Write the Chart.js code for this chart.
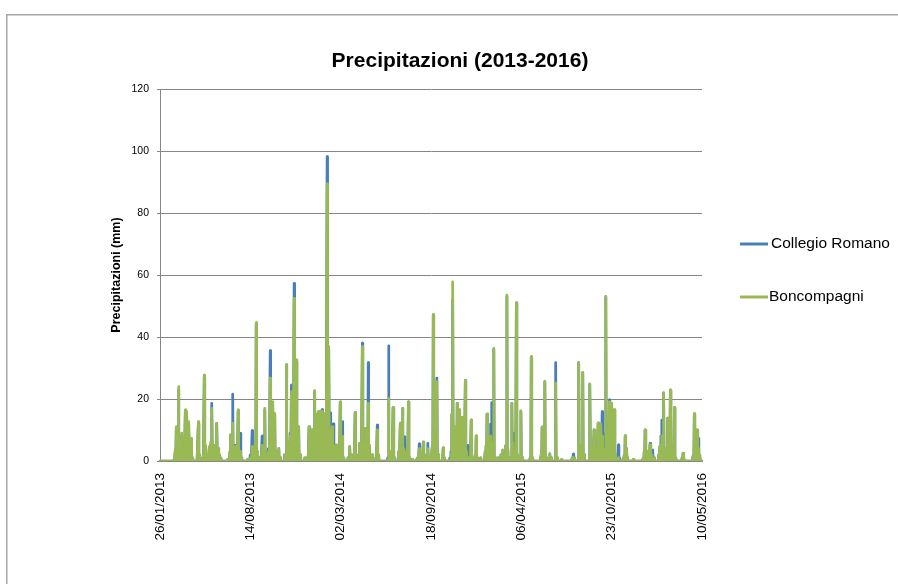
<!DOCTYPE html>
<html>
<head>
<meta charset="utf-8">
<script src="https://cdn.jsdelivr.net/npm/chart.js@4/dist/chart.umd.min.js"></script>
<style>
  html, body { margin: 0; padding: 0; background: #fff; }
  #wrap { width: 898px; height: 584px; }
</style>
</head>
<body>
<div id="wrap"><canvas id="rainChart" width="898" height="584"></canvas></div>
<script>
// Daily series from 26/01/2013 to 10/05/2016 (1201 days); dry days are 0 mm
const startDate = '26/01/2013';
const dayCount = 1201;
const tickLabels = ['26/01/2013', '14/08/2013', '02/03/2014', '18/09/2014', '06/04/2015', '23/10/2015', '10/05/2016'];
const seriesNames = ['Collegio Romano', 'Boncompagni'];
const seriesColors = ['#4a7ebb', '#98b954'];

// rainy days, as day number counted from the start date
const rainDays = [
  34, 36, 38, 41, 43, 46, 48, 53, 56, 59, 62, 64, 67, 69, 72, 85, 87, 90, 98, 100,
  106, 109, 112, 115, 118, 121, 124, 126, 129, 132, 135, 150, 155, 157, 159, 161, 164, 167, 169, 173,
  176, 178, 181, 194, 200, 204, 207, 211, 213, 216, 220, 226, 229, 232, 235, 240, 244, 247, 250, 252,
  254, 257, 260, 263, 266, 276, 280, 283, 286, 288, 291, 294, 297, 300, 302, 305, 307, 310, 320, 325,
  330, 333, 337, 340, 342, 345, 348, 350, 353, 356, 359, 362, 365, 367, 370, 372, 374, 377, 379, 381,
  384, 386, 388, 390, 393, 396, 399, 401, 404, 407, 416, 420, 423, 425, 428, 432, 435, 438, 442, 445,
  448, 450, 453, 456, 459, 461, 463, 466, 470, 478, 481, 484, 504, 506, 509, 512, 516, 519, 529, 532,
  535, 537, 539, 541, 544, 547, 550, 553, 558, 570, 574, 577, 583, 586, 590, 593, 596, 603, 605, 608,
  611, 613, 616, 627, 630, 641, 644, 646, 648, 650, 653, 656, 658, 660, 663, 666, 669, 671, 673, 676,
  679, 682, 684, 689, 692, 698, 700, 703, 710, 720, 722, 724, 727, 730, 732, 735, 737, 739, 742, 748,
  752, 755, 759, 762, 766, 768, 770, 773, 779, 781, 784, 786, 789, 792, 796, 799, 802, 820, 822, 825,
  844, 846, 849, 852, 855, 863, 866, 876, 879, 889, 913, 915, 918, 927, 930, 933, 936, 939, 952, 955,
  958, 961, 964, 967, 970, 973, 976, 979, 982, 985, 987, 990, 993, 995, 997, 999, 1002, 1004, 1006, 1009,
  1012, 1015, 1018, 1028, 1030, 1033, 1035, 1048, 1070, 1072, 1074, 1077, 1080, 1082, 1085, 1088, 1091, 1094, 1104, 1107,
  1109, 1111, 1113, 1115, 1118, 1121, 1124, 1127, 1130, 1133, 1136, 1139, 1142, 1156, 1158, 1160, 1181, 1183, 1186, 1189,
  1192, 1195
];

// mm on those days, Collegio Romano
const collegioRomano = [
  3, 10, 2, 23, 6, 2, 8, 4, 15, 15, 5, 12, 3, 7, 1, 12, 2, 1, 27, 4,
  2, 4, 5, 18.6, 3, 5, 2, 12, 4, 2, 1, 0.5, 3, 8.4, 5, 21.6, 3, 5, 2, 16,
  3, 8.9, 1, 0.5, 2, 9.8, 2, 5, 44, 3, 1, 8, 3, 16.5, 2, 4, 35.6, 8, 19, 6,
  15, 3, 1, 4, 1, 2, 31, 6, 3, 9, 24.5, 6, 57.3, 10, 32, 8, 11, 2, 1, 1,
  11, 8, 10, 2, 22.5, 5, 14, 15.5, 16, 8, 16.6, 10, 15, 4, 98.2, 10, 36.5, 15.5, 2, 11.6,
  12, 2, 4, 5, 3, 2, 19, 3, 12.7, 1, 1, 4.6, 1, 2, 1, 15.6, 2, 1, 5.7, 3,
  38, 6, 3, 10.5, 5, 31.7, 5, 1, 2, 1, 11.6, 2, 1, 37.1, 3, 2, 17.2, 1, 3, 12,
  6, 17, 4, 7.8, 2, 3, 19, 1, 0.5, 1, 5.5, 1, 6, 1, 2, 5.7, 1, 5, 47, 10,
  3, 26.7, 2, 4, 1, 1, 3, 15, 51.9, 8, 11, 6, 18.6, 4, 16.5, 2, 14, 3, 10, 25.9,
  3, 5, 1, 13.2, 1, 2, 8, 1, 1, 3, 5, 15, 3, 6, 11.9, 18.8, 4, 36, 1, 1,
  1, 2, 3.5, 1, 5, 53, 4, 1, 18.6, 6, 8.9, 3, 51, 2, 1, 16, 1, 1, 33.6, 1,
  2, 10.9, 2, 25.6, 1, 2.3, 1, 31.7, 1, 0.5, 1, 2.2, 1, 31.7, 3, 5, 28.5, 2, 24.8, 4,
  2, 10, 2, 3, 12.2, 5, 11, 15.9, 8.9, 3, 53, 5, 10, 19.7, 6, 18.6, 3, 2, 16.5, 2,
  1, 5.2, 1, 2, 8.1, 4, 1, 0.5, 1, 3, 10, 2, 3, 2, 5.7, 2, 3.5, 1, 2, 4.6,
  8, 13.2, 6, 22, 4, 3, 13.8, 4, 22.9, 5, 3, 17.2, 1, 1, 2.5, 1, 2, 15.2, 5, 10,
  7.3, 2
];

// mm on those days, Boncompagni
const boncompagni = [
  4, 11, 3, 24, 7, 1, 9, 5, 16.5, 16, 4, 12.7, 3, 7.3, 1, 12.7, 2, 1, 27.7, 5,
  2, 4.6, 6, 17, 3, 5, 2, 12.2, 4, 2, 1, 0.5, 3, 8.4, 4, 12.2, 3, 4.6, 2, 16.5,
  3, 3, 1, 0.5, 1, 4.6, 2, 6, 44.6, 3, 1, 5, 3, 17, 2, 3, 26.7, 8, 19.1, 6,
  15.4, 3, 1, 4, 1, 2, 31.2, 6, 3, 8, 22.4, 6, 52.5, 10, 32.6, 8, 11, 2, 1, 1,
  11, 8, 10, 2, 22.7, 5, 15, 15.9, 16, 8, 16, 10, 15.4, 4, 89.4, 10, 36.9, 10, 1, 11,
  5, 2, 4, 5.2, 3, 2, 19.1, 3, 8, 1, 1, 4.6, 1, 2, 1, 15.6, 2, 1, 5.7, 3,
  36.9, 6, 3, 10.5, 5, 18.6, 5, 1, 2, 1, 10, 2, 0, 20.2, 3, 2, 17.2, 1, 3, 12.2,
  6, 17, 4, 3, 2, 3, 19.1, 1, 0.5, 1, 4, 1, 6.2, 1, 2, 4, 1, 5, 47.3, 10,
  3, 25.6, 2, 4.3, 1, 0, 2, 15, 57.8, 8, 11, 6, 18.6, 4, 16.5, 2, 14.1, 3, 10, 25.9,
  3, 1, 1, 13.2, 1, 2, 8.1, 1, 1, 3, 5, 15.2, 3, 6, 8, 6, 4, 36.3, 1, 1,
  1, 2, 3.5, 1, 5, 53.5, 4, 1, 18.6, 6, 3, 3, 51, 2, 1, 16.2, 1, 1, 33.6, 1,
  2, 10.9, 2, 25.6, 1, 2.3, 1, 25.1, 1, 0.5, 1, 1, 1, 31.7, 3, 5, 28.5, 2, 24.8, 4,
  2, 10, 2, 3, 12.2, 5, 11.9, 8, 4, 3, 53, 5, 10, 19.1, 6, 18.6, 3, 2, 16.5, 2,
  0, 1, 0, 2, 8.1, 4, 1, 0.5, 1, 3, 10, 2, 3, 2, 5.2, 2, 1, 1, 2, 4.6,
  5, 8, 6, 22, 4, 3, 13.8, 4, 22.9, 5, 3, 17.2, 1, 1, 2.5, 1, 2, 15.2, 5, 10,
  4, 2
];

function dayLabel(i) {
  const [d, m, y] = startDate.split('/').map(Number);
  const dt = new Date(Date.UTC(y, m - 1, d + i));
  const pad = n => String(n).padStart(2, '0');
  return pad(dt.getUTCDate()) + '/' + pad(dt.getUTCMonth() + 1) + '/' + dt.getUTCFullYear();
}

function dailySeries(values) {
  const out = new Array(dayCount).fill(0);
  rainDays.forEach((day, k) => { out[day] = values[k]; });
  return out;
}

const labels = [];
for (let i = 0; i < dayCount; i++) labels.push(dayLabel(i));

const greyLine = '#868686';
const textFont = 'Liberation Sans, Arial, sans-serif';

// title, y-axis caption, legend and outer frame drawn like the Excel original
const decorPlugin = {
  id: 'decor',
  beforeDraw(chart) {
    const ctx = chart.ctx;
    ctx.save();
    ctx.strokeStyle = '#a6a6a6';
    ctx.lineWidth = 1.5;
    ctx.strokeRect(6.75, 14.75, 1200, 1200);
    ctx.restore();
  },
  afterDraw(chart) {
    const ctx = chart.ctx;
    const area = chart.chartArea;
    ctx.save();
    ctx.fillStyle = '#000';
    ctx.textBaseline = 'middle';

    ctx.font = 'bold 21px ' + textFont;
    ctx.textAlign = 'center';
    ctx.fillText('Precipitazioni (2013-2016)', 460, 61);

    ctx.save();
    ctx.translate(117, (area.top + area.bottom) / 2);
    ctx.rotate(-Math.PI / 2);
    ctx.font = 'bold 12.5px ' + textFont;
    ctx.fillText('Precipitazioni (mm)', 0, 0);
    ctx.restore();

    ctx.textAlign = 'left';
    ctx.font = '15.5px ' + textFont;
    const rows = [244, 297];
    chart.data.datasets.forEach((ds, i) => {
      const y = rows[i];
      ctx.strokeStyle = ds.borderColor;
      ctx.lineWidth = 3;
      ctx.beginPath();
      ctx.moveTo(740, y);
      ctx.lineTo(768, y);
      ctx.stroke();
      ctx.fillText(ds.label, i === 0 ? 771 : 769, y);
    });
    ctx.restore();
  }
};

new Chart(document.getElementById('rainChart'), {
  type: 'line',
  data: {
    labels: labels,
    datasets: [
      {
        label: seriesNames[0],
        data: dailySeries(collegioRomano),
        borderColor: seriesColors[0],
        borderWidth: 2.75,
        order: 1
      },
      {
        label: seriesNames[1],
        data: dailySeries(boncompagni),
        borderColor: seriesColors[1],
        borderWidth: 2.75,
        order: 0
      }
    ]
  },
  options: {
    responsive: false,
    animation: false,
    layout: { padding: { left: 0, top: 89, right: 196, bottom: 0 } },
    elements: {
      point: { radius: 0 },
      line: { tension: 0, borderJoinStyle: 'round', borderCapStyle: 'round', fill: false }
    },
    plugins: {
      legend: { display: false },
      title: { display: false },
      tooltip: { enabled: false }
    },
    scales: {
      x: {
        type: 'category',
        offset: false,
        grid: { display: false },
        border: { display: true, color: greyLine, width: 1 },
        ticks: {
          autoSkip: false,
          maxRotation: 90,
          minRotation: 90,
          padding: 4,
          color: '#000',
          font: { family: textFont, size: 13.5 },
          callback: function (value) {
            const lbl = this.getLabelForValue(value);
            return tickLabels.includes(lbl) ? lbl : '';
          }
        },
        afterFit: s => { s.height = 123; }
      },
      y: {
        min: 0,
        max: 120,
        grid: { color: greyLine, lineWidth: 1, tickLength: 3, drawTicks: true },
        border: { display: true, color: greyLine, width: 1 },
        ticks: {
          stepSize: 20,
          padding: 8,
          color: '#000',
          font: { family: textFont, size: 10.5 }
        },
        afterFit: s => { s.width = 160; }
      }
    }
  },
  plugins: [decorPlugin]
});
</script>
</body>
</html>
